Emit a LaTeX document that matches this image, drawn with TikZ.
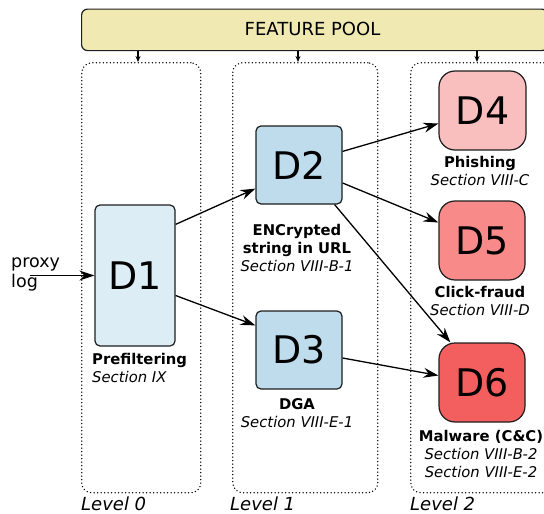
\documentclass[tikz,border=0pt]{standalone}
\usepackage{fontspec}
\setmainfont{DejaVu Sans}
\usetikzlibrary{arrows.meta,calc}
\definecolor{poolc}{RGB}{240,233,177}
\definecolor{dlight}{RGB}{221,237,245}
\definecolor{dblue}{RGB}{190,220,236}
\definecolor{dpinkA}{RGB}{249,190,190}
\definecolor{dpinkB}{RGB}{248,138,138}
\definecolor{dpinkC}{RGB}{243,95,95}
\definecolor{edge}{RGB}{30,30,30}
\tikzset{
  dbox/.style={draw=edge, line width=1.2pt, rounded corners=5pt, inner sep=0pt,
    font=\fontsize{38}{40}\selectfont},
  rbox/.style={dbox, rounded corners=16pt, minimum width=86pt, minimum height=79pt},
  lvl/.style={draw, line width=1.5pt, line cap=round, dash pattern=on 0pt off 3.5pt, rounded corners=10pt, inner sep=0pt},
  lab/.style={inner sep=0pt, align=center, font=\fontsize{14.8}{18}\selectfont},
  lvllab/.style={inner sep=0pt, anchor=base west, font=\fontsize{18}{20}\selectfont\itshape},
  conn/.style={line width=1.3pt, -{Stealth[length=15pt,width=10pt,inset=5pt]}},
  parrow/.style={line width=1.2pt, -{Stealth[length=6pt,width=5pt,inset=2pt]}}
}
\begin{document}
\begin{tikzpicture}[x=1pt,y=-1pt]
\useasboundingbox (0,0) rectangle (544,514);
\clip (0,0) rectangle (544,514);

% feature pool
\node[draw=edge, line width=1.2pt, fill=poolc, rounded corners=6pt, inner sep=0pt,
  minimum width=466pt, minimum height=41.5pt, anchor=north west] (pool) at (81,8.5) {};
\node[inner sep=0pt, font=\fontsize{18}{20}\selectfont] (pooltxt) at (312.5,28.5) {FEATURE POOL};

% level boxes
\node[lvl, minimum width=119pt, minimum height=430pt, anchor=north west] (L0) at (81,62) {};
\node[lvl, minimum width=145pt, minimum height=430pt, anchor=north west] (L1) at (232,62) {};
\node[lvl, minimum width=150pt, minimum height=430pt, anchor=north west] (L2) at (410,62) {};

\draw[parrow] (pool.south -| 138,0) -- (L0.north -| 138,0);
\draw[parrow] (pool.south -| 298,0) -- (L1.north -| 298,0);
\draw[parrow] (pool.south -| 477,0) -- (L2.north -| 477,0);

% detectors
\node[dbox, fill=dlight, minimum width=80pt, minimum height=141pt] (D1) at (135,275.5) {D1};
\node[dbox, fill=dblue, minimum width=86pt, minimum height=78pt] (D2) at (299,165) {D2};
\node[dbox, fill=dblue, minimum width=86pt, minimum height=78pt] (D3) at (299,350) {D3};
\node[rbox, fill=dpinkA, minimum width=87pt] (D4) at (482.5,110.5) {D4};
\node[rbox, fill=dpinkB] (D5) at (482,240.5) {D5};
\node[rbox, fill=dpinkC] (D6) at (482,382.5) {D6};

% labels
\node[lab, align=left, anchor=north west] (l1) at (92,353) {\textbf{Prefiltering}\\\textit{Section IX}};
\node[lab, anchor=north] (l2) at (297,224) {\textbf{ENCrypted}\\\textbf{string in URL}\\\textit{Section VIII-B-1}};
\node[lab, anchor=north] (l3) at (297,398) {\textbf{DGA}\\\textit{Section VIII-E-1}};
\node[lab, anchor=north] (l4) at (480,156) {\textbf{Phishing}\\\textit{Section VIII-C}};
\node[lab, anchor=north] (l5) at (480,286) {\textbf{Click-fraud}\\\textit{Section VIII-D}};
\node[lab, anchor=north] (l6) at (481,430) {\textbf{Malware (C\&C)}\\\textit{Section VIII-B-2}\\\textit{Section VIII-E-2}};

\node[lvllab] (lv0) at (81,510) {Level 0};
\node[lvllab] (lv1) at (230,510) {Level 1};
\node[lvllab] (lv2) at (410,510) {Level 2};

% input
\node[inner sep=0pt, align=left, anchor=north west, font=\fontsize{17.5}{20}\selectfont] (proxy) at (11,257) {proxy\\log};
\coordinate (in) at (30,275.5);
\draw[conn] (in) -- (D1.west);

% connectors
\draw[conn] ($(D1.north east)+(0,20)$) -- ($(D2.south west)+(0,-16)$);
\draw[conn] ($(D1.east)+(0,20)$) -- ($(D3.north west)+(0,15)$);
\draw[conn] ($(D2.north east)+(0,26)$) -- ($(D4.west)+(0,13)$);
\draw[conn] ($(D2.east)+(0,18)$) -- ($(D5.west)+(0,-18)$);
\draw[conn] ($(D2.south east)+(-8,0)$) -- ($(D6.north west)+(12,0)$);
\draw[conn] ($(D3.east)+(0,8)$) -- ($(D6.west)+(0,-7)$);
\end{tikzpicture}
\end{document}
